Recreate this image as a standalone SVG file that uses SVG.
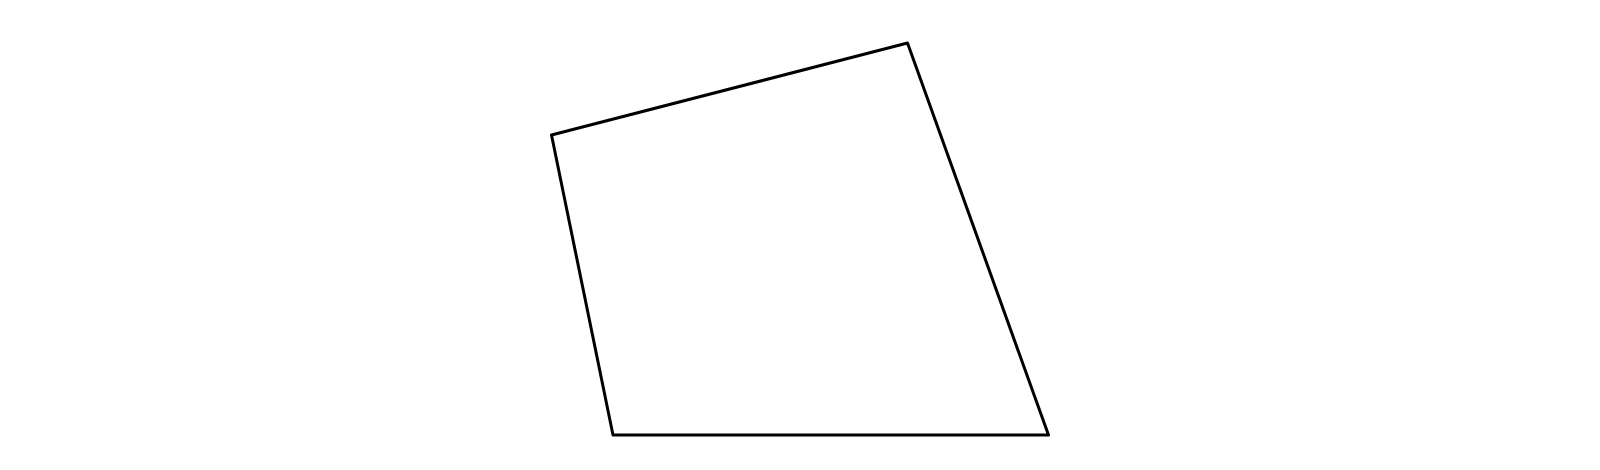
<svg xmlns="http://www.w3.org/2000/svg" width="1600" height="470" viewBox="0 0 1600 470">
<rect width="1600" height="470" fill="#ffffff"/>
<g id="shape">
<polygon points="551.5,135 907.5,43 1048.5,435 613,435" fill="none" stroke="#000000" stroke-width="3" stroke-linejoin="round"/>
</g>
</svg>
